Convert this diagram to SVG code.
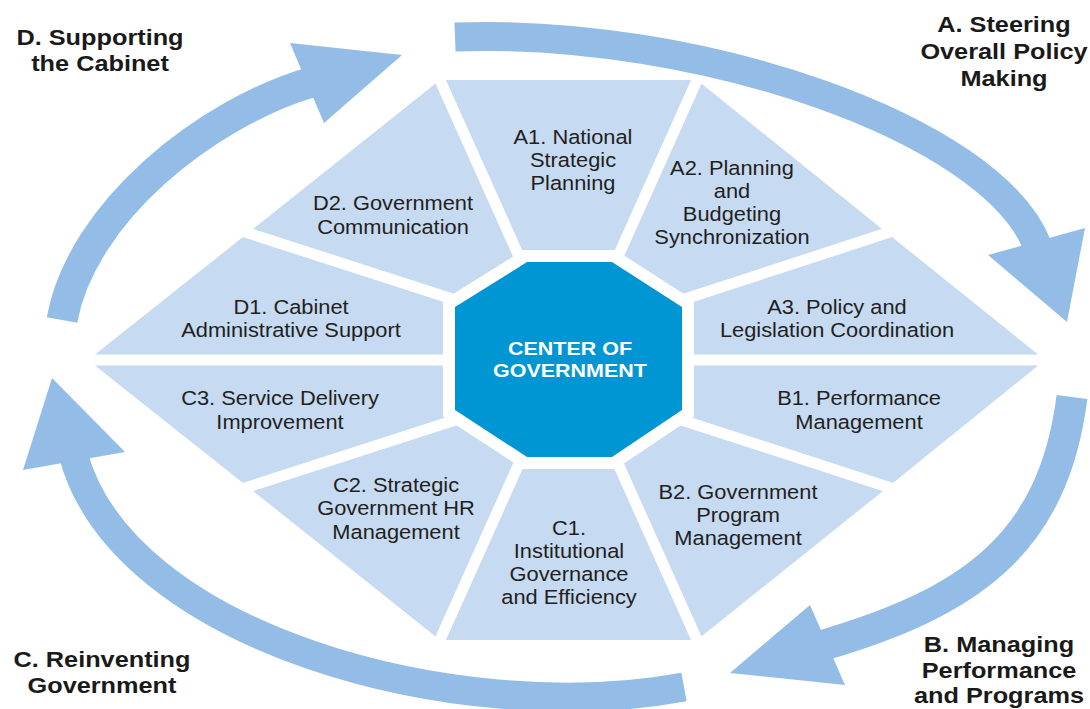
<svg xmlns="http://www.w3.org/2000/svg" width="1090" height="709" viewBox="0 0 1090 709">
<style>
.seg{fill:#c6daf2}
.lbl{font-family:"Liberation Sans",Arial,Helvetica,sans-serif;font-size:19.5px;fill:#231f20;text-anchor:middle}
.hd{font-family:"Liberation Sans",Arial,Helvetica,sans-serif;font-size:22px;font-weight:bold;fill:#1a1a1a;text-anchor:middle}
.core{font-family:"Liberation Sans",Arial,Helvetica,sans-serif;font-size:19px;font-weight:bold;fill:#ffffff;text-anchor:middle}
.sep{stroke:#ffffff;stroke-width:11;fill:none;stroke-linecap:butt}
.band{fill:none;stroke:#93bde6}
.head{fill:#93bde6}
</style>
<rect width="1090" height="709" fill="#ffffff"/>

<g id="node-A1">
<polygon class="seg" points="568,360 517,252 440,80 697,80 620,252"/>
<g transform="translate(573 0) scale(1.12 1)"><text class="lbl"><tspan x="0" y="144">A1. National</tspan><tspan x="0" y="167">Strategic</tspan><tspan x="0" y="190">Planning</tspan></text></g>
</g>
<g id="node-A2">
<polygon class="seg" points="568,360 620,252 697,80 887,233 691,297"/>
<g transform="translate(732 0) scale(1.12 1)"><text class="lbl"><tspan x="0" y="175">A2. Planning</tspan><tspan x="0" y="198">and</tspan><tspan x="0" y="221">Budgeting</tspan><tspan x="0" y="244">Synchronization</tspan></text></g>
</g>
<g id="node-A3">
<polygon class="seg" points="568,360 691,297 887,233 1045,360 682,360"/>
<g transform="translate(837 0) scale(1.12 1)"><text class="lbl"><tspan x="0" y="314">A3. Policy and</tspan><tspan x="0" y="337">Legislation Coordination</tspan></text></g>
</g>
<g id="node-B1">
<polygon class="seg" points="568,360 682,360 1045,360 888,487 691,423"/>
<g transform="translate(859 0) scale(1.12 1)"><text class="lbl"><tspan x="0" y="405">B1. Performance</tspan><tspan x="0" y="429">Management</tspan></text></g>
</g>
<g id="node-B2">
<polygon class="seg" points="568,360 691,423 888,487 697,640 620,468"/>
<g transform="translate(738 0) scale(1.12 1)"><text class="lbl"><tspan x="0" y="499">B2. Government</tspan><tspan x="0" y="522">Program</tspan><tspan x="0" y="545">Management</tspan></text></g>
</g>
<g id="node-C1">
<polygon class="seg" points="568,360 620,468 697,640 440,640 517,468"/>
<g transform="translate(569 0) scale(1.12 1)"><text class="lbl"><tspan x="0" y="535">C1.</tspan><tspan x="0" y="558">Institutional</tspan><tspan x="0" y="581">Governance</tspan><tspan x="0" y="604">and Efficiency</tspan></text></g>
</g>
<g id="node-C2">
<polygon class="seg" points="568,360 517,468 440,640 248,487 446,423"/>
<g transform="translate(396 0) scale(1.12 1)"><text class="lbl"><tspan x="0" y="492">C2. Strategic</tspan><tspan x="0" y="515">Government HR</tspan><tspan x="0" y="539">Management</tspan></text></g>
</g>
<g id="node-C3">
<polygon class="seg" points="568,360 446,423 248,487 88,360 455,360"/>
<g transform="translate(280 0) scale(1.12 1)"><text class="lbl"><tspan x="0" y="405">C3. Service Delivery</tspan><tspan x="0" y="429">Improvement</tspan></text></g>
</g>
<g id="node-D1">
<polygon class="seg" points="568,360 455,360 88,360 248,233 446,297"/>
<g transform="translate(291 0) scale(1.12 1)"><text class="lbl"><tspan x="0" y="314">D1. Cabinet</tspan><tspan x="0" y="337">Administrative Support</tspan></text></g>
</g>
<g id="node-D2">
<polygon class="seg" points="568,360 446,297 248,233 440,80 517,252"/>
<g transform="translate(393 0) scale(1.12 1)"><text class="lbl"><tspan x="0" y="210">D2. Government</tspan><tspan x="0" y="234">Communication</tspan></text></g>
</g>

<g id="separators">
<line class="sep" x1="528.6" y1="277.8" x2="436.1" y2="71.4"/>
<line class="sep" x1="608.4" y1="277.8" x2="700.9" y2="71.4"/>
<line class="sep" x1="661.6" y1="306.6" x2="896.8" y2="229.8"/>
<line class="sep" x1="660" y1="360" x2="1060" y2="360"/>
<line class="sep" x1="661.4" y1="413.4" x2="897.9" y2="490.2"/>
<line class="sep" x1="608.4" y1="442.2" x2="700.9" y2="648.6"/>
<line class="sep" x1="528.6" y1="442.2" x2="436.1" y2="648.6"/>
<line class="sep" x1="475.7" y1="413.4" x2="238.1" y2="490.2"/>
<line class="sep" x1="480" y1="360" x2="75" y2="360"/>
<line class="sep" x1="475.7" y1="306.6" x2="238.1" y2="229.8"/>
<polygon points="527,262 612,262 682,307 682,410 612,457 527,457 455,410 455,307" fill="#ffffff" stroke="#ffffff" stroke-width="24" stroke-linejoin="miter"/>
</g>

<g id="node-center">
<polygon points="527,262 612,262 682,307 682,410 612,457 527,457 455,410 455,307" fill="#0096d4"/>
<g transform="translate(570 0) scale(1.13 1)"><text class="core"><tspan x="0" y="355">CENTER OF</tspan><tspan x="0" y="377">GOVERNMENT</tspan></text></g>
</g>

<g id="connectors">
<g id="arrow-A">
<path class="band" stroke-width="29" d="M455,37 C700,28 991,129 1037,245"/>
<polygon class="head" points="1085,228 1067,322 988,255"/>
</g>
<g id="arrow-B">
<path class="band" stroke-width="31" d="M1072,397 C1053,546 967.9,602.4 824,645"/>
<polygon class="head" points="810,605 730,673 845,685"/>
</g>
<g id="arrow-C">
<path class="band" stroke-width="29" d="M684,687 C458,729 121.8,637.9 73.2,454.2"/>
<polygon class="head" points="125,452 52,378 23,470"/>
</g>
<g id="arrow-D">
<path class="band" stroke-width="31" d="M62,320 C81.7,211.8 206.5,113 312,82"/>
<polygon class="head" points="290,43 402,55 324,123"/>
</g>
</g>

<g id="label-A" transform="translate(1004 0) scale(1.15 1)"><text class="hd"><tspan x="0" y="32">A. Steering</tspan><tspan x="0" y="59">Overall Policy</tspan><tspan x="0" y="86">Making</tspan></text></g>
<g id="label-B" transform="translate(999 0) scale(1.15 1)"><text class="hd"><tspan x="0" y="652">B. Managing</tspan><tspan x="0" y="678">Performance</tspan><tspan x="0" y="703">and Programs</tspan></text></g>
<g id="label-C" transform="translate(102 0) scale(1.15 1)"><text class="hd"><tspan x="0" y="667">C. Reinventing</tspan><tspan x="0" y="693">Government</tspan></text></g>
<g id="label-D" transform="translate(100 0) scale(1.15 1)"><text class="hd"><tspan x="0" y="45">D. Supporting</tspan><tspan x="0" y="71">the Cabinet</tspan></text></g>
</svg>
